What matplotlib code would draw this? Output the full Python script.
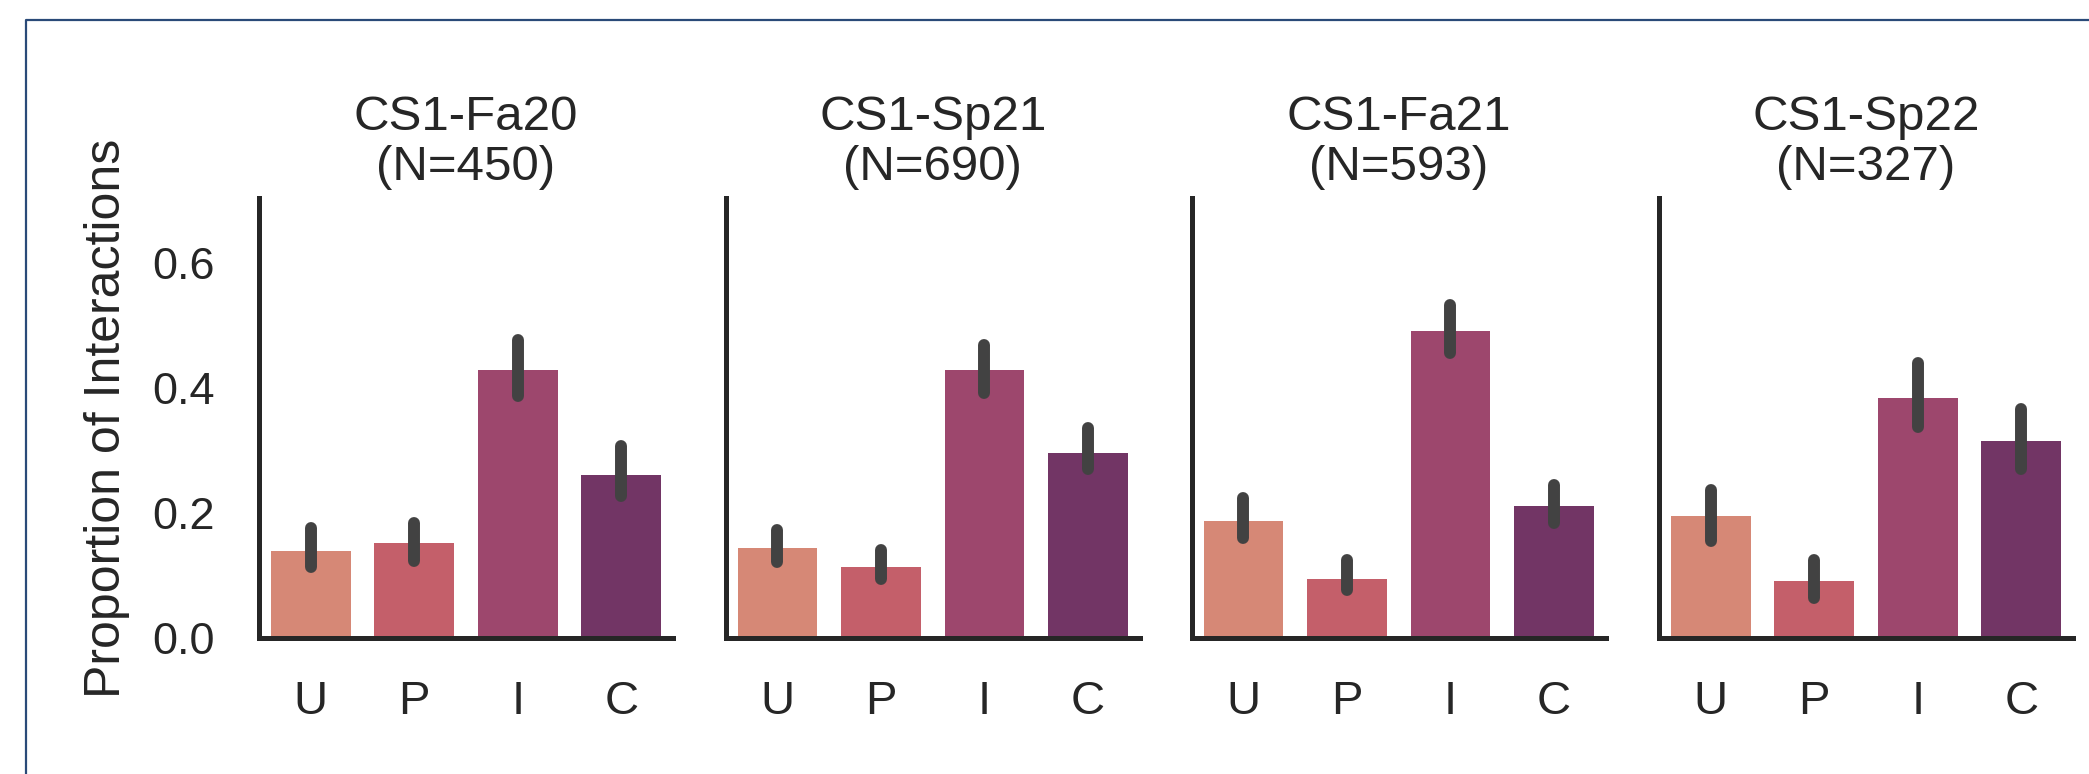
import matplotlib
matplotlib.use("Agg")
import matplotlib.pyplot as plt
from matplotlib.lines import Line2D

# data
categories = ["U", "P", "I", "C"]
semesters = ["CS1-Fa20", "CS1-Sp21", "CS1-Fa21", "CS1-Sp22"]
n_students = [450, 690, 593, 327]

prop_fa20 = [0.140, 0.152, 0.429, 0.262]
prop_sp21 = [0.144, 0.114, 0.429, 0.297]
prop_fa21 = [0.187, 0.095, 0.491, 0.211]
prop_sp22 = [0.195, 0.091, 0.384, 0.315]

ci_lo_fa20 = [0.114, 0.123, 0.387, 0.228]
ci_hi_fa20 = [0.177, 0.185, 0.478, 0.308]
ci_lo_sp21 = [0.122, 0.095, 0.392, 0.271]
ci_hi_sp21 = [0.173, 0.141, 0.470, 0.336]
ci_lo_fa21 = [0.160, 0.077, 0.456, 0.184]
ci_hi_fa21 = [0.224, 0.125, 0.534, 0.245]
ci_lo_sp22 = [0.156, 0.064, 0.338, 0.271]
ci_hi_sp22 = [0.238, 0.125, 0.440, 0.367]

props = [prop_fa20, prop_sp21, prop_fa21, prop_sp22]
ci_lo = [ci_lo_fa20, ci_lo_sp21, ci_lo_fa21, ci_lo_sp22]
ci_hi = [ci_hi_fa20, ci_hi_sp21, ci_hi_fa21, ci_hi_sp22]

bar_colors = ["#d68876", "#c45f6a", "#9d476d", "#723565"]
yticks = [0.0, 0.2, 0.4, 0.6]

plt.rcParams["font.family"] = ["Liberation Sans", "DejaVu Sans"]
plt.rcParams["text.color"] = "#262626"
plt.rcParams["axes.labelcolor"] = "#262626"
plt.rcParams["xtick.color"] = "#262626"
plt.rcParams["ytick.color"] = "#262626"

W, H, DPI = 2089, 774, 100
fig = plt.figure(figsize=(W / DPI, H / DPI), dpi=DPI)

lefts = [259, 725.7, 1191.7, 1659]
ax_w = 414
ax_bottom = 638.3
ax_top = 198.3

for i, sem in enumerate(semesters):
    ax = fig.add_axes([lefts[i] / W, 1 - ax_bottom / H, ax_w / W, (ax_bottom - ax_top) / H])
    x = list(range(len(categories)))
    ax.bar(x, props[i], width=0.77, color=bar_colors, zorder=2)
    ax.vlines(x, ci_lo[i], ci_hi[i], colors="#424242", linewidth=8.6,
              capstyle="round", zorder=3)
    ax.set_xlim(-0.5, 3.5)
    ax.set_ylim(0, 0.704)
    ax.set_xticks(x)
    ax.set_xticklabels(categories, fontsize=34)
    ax.set_yticks(yticks)
    if i == 0:
        ax.set_yticklabels([f"{t:.1f}" for t in yticks], fontsize=32.5)
        ax.set_ylabel("Proportion of Interactions", fontsize=36, labelpad=16)
    else:
        ax.set_yticklabels([])
    ax.tick_params(axis="y", length=0, pad=32)
    ax.tick_params(axis="x", length=0, pad=30)
    for side in ["top", "right"]:
        ax.spines[side].set_visible(False)
    for side in ["left", "bottom"]:
        ax.spines[side].set_linewidth(3.6)
        ax.spines[side].set_color("#262626")
    ax.set_title(f"{sem}\n(N={n_students[i]})", fontsize=35.5, pad=13, linespacing=1.15)

# thin frame that runs off the right and bottom edges
frame = Line2D([26 / W, 26 / W, 1.0], [0.0, 1 - 20 / H, 1 - 20 / H],
               transform=fig.transFigure, color="#2a4a78", linewidth=1.6)
fig.add_artist(frame)

fig.savefig("out.png", dpi=DPI)
